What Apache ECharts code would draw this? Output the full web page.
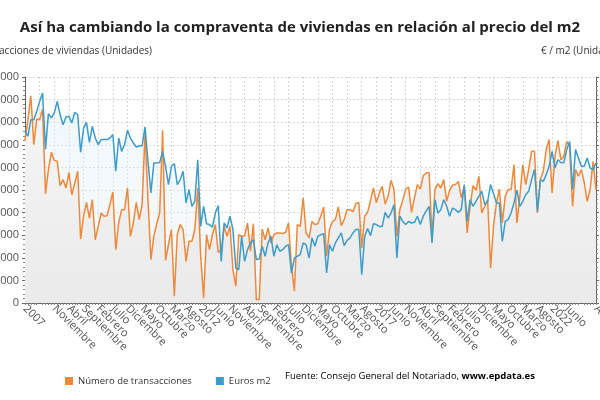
<!DOCTYPE html>
<html>
<head>
<meta charset="utf-8">
<script src="https://cdn.jsdelivr.net/npm/echarts@6/dist/echarts.min.js"></script>
<style>
html,body{margin:0;padding:0;background:#fff;}
#chart{width:600px;height:400px;}
</style>
</head>
<body>
<div id="chart"></div>
<script>
const monthNames = ['Enero','Febrero','Marzo','Abril','Mayo','Junio','Julio','Agosto','Septiembre','Octubre','Noviembre','Diciembre'];
const firstYear = 2007;

// Número de transacciones (Unidades), monthly from Jan 2007
const transacciones = [
72000,81100,91700,70100,81400,81100,85800,48400,59000,66700,63100,62700,
51900,54600,50900,57800,47900,53100,58300,28300,38400,44500,37600,45700,
28000,33900,39800,38400,38600,43500,49100,23600,35400,41300,41300,50900,
29500,35400,44500,36900,43500,75200,45700,19200,29500,35100,39800,76400,
18900,25800,32450,2950,30200,34700,32450,18400,27300,27300,32500,50900,
20700,2200,30200,23600,30200,34700,22400,23600,33900,29500,33900,14800,
7400,30200,29500,29800,35400,22900,35100,1500,1500,32700,28000,33200,
26600,30200,31000,31000,30700,31300,35400,16200,5200,34700,33900,46500,
31000,28800,36100,34700,35100,38400,42500,20700,32700,36100,36900,42500,
34200,36900,41300,41300,40400,44000,44500,24300,38400,40100,45400,50900,
44300,48700,51600,43800,47200,54300,50200,29500,41300,45400,50400,51300,
40100,46500,52400,50400,56300,57500,57800,29500,50200,52800,50900,54600,
45000,49900,52100,52400,53800,46500,51600,31000,42800,51900,49900,56100,
39800,42800,45700,15500,33900,44300,50400,35400,47200,50200,50200,61200,
35400,47200,61200,52400,59000,67100,67100,39800,54600,58300,67900,72300,
48700,64900,71800,63400,64900,71500,69300,42800,59000,56100,59000,53100,
45000,50200,62700,50200
];

// Euros m2, monthly from Jan 2007
const eurosM2 = [
1760,1738,1811,1811,1848,1892,1929,1681,1838,1819,1841,1892,
1833,1789,1823,1826,1797,1844,1833,1667,1774,1799,1711,1782,
1730,1701,1723,1723,1723,1730,1745,1583,1730,1671,1701,1764,
1730,1708,1690,1696,1696,1779,1627,1487,1620,1620,1622,1671,
1605,1524,1605,1617,1524,1546,1583,1443,1502,1428,1450,1634,
1339,1428,1351,1347,1336,1398,1431,1184,1354,1332,1384,1327,
1155,1148,1295,1184,1236,1266,1280,1192,1195,1251,1207,1266,
1295,1207,1258,1229,1236,1251,1258,1133,1199,1207,1214,1266,
1258,1199,1288,1251,1295,1302,1307,1133,1258,1229,1266,1288,
1310,1254,1277,1288,1310,1325,1325,1125,1295,1330,1298,1351,
1347,1339,1339,1401,1376,1398,1435,1199,1384,1361,1347,1361,
1354,1357,1384,1347,1384,1406,1428,1266,1457,1398,1413,1457,
1428,1384,1420,1413,1401,1413,1524,1361,1457,1428,1450,1472,
1494,1435,1450,1524,1484,1443,1443,1273,1361,1369,1398,1443,
1499,1428,1450,1479,1494,1546,1590,1406,1546,1538,1568,1605,
1671,1597,1634,1622,1620,1679,1715,1502,1679,1642,1605,1605,
1642,1597,1590,1620
];

const leftTicks = {min: 0, max: 100000, interval: 10000};
const rightTicks = {min: 1000, max: 2000, interval: 100};

const seriesNames = ['Número de transacciones', 'Euros m2'];
const titleText = 'Así ha cambiando la compraventa de viviendas en relación al precio del m2';
const leftAxisTitle = 'Transacciones de viviendas (Unidades)';
const rightAxisTitle = '€ / m2 (Unidades)';
const sourceLabel = 'Fuente: Consejo General del Notariado, ';
const sourceSite = 'www.epdata.es';

const categories = transacciones.map(function (_, i) {
  const m = i % 12;
  return m === 0 ? String(firstYear + Math.floor(i / 12)) : monthNames[m];
});

const ORANGE = '#f0883a';
const BLUE = '#3d9cc9';
const FONT = 'Open Sans';

const chart = echarts.init(document.getElementById('chart'), null, {renderer: 'canvas'});
chart.setOption({
  animation: false,
  backgroundColor: '#ffffff',
  textStyle: {fontFamily: FONT},
  title: {
    text: titleText,
    left: 'center',
    top: 15,
    textStyle: {fontFamily: FONT, fontSize: 15, fontWeight: 'bold', color: '#222'}
  },
  graphic: [
    {type: 'text', x: 152, y: 46, style: {text: leftAxisTitle, textAlign: 'right', fontFamily: FONT, fontSize: 10, fill: '#333'}},
    {type: 'text', x: 541, y: 46, style: {text: rightAxisTitle, textAlign: 'left', fontFamily: FONT, fontSize: 10, fill: '#333'}},
    {type: 'text', x: 285, y: 371, style: {
      rich: {n: {fontFamily: FONT, fontSize: 9.5, color: '#333'}, b: {fontFamily: FONT, fontSize: 9.5, fontWeight: 'bold', color: '#333'}},
      text: '{n|' + sourceLabel + '}{b|' + sourceSite + '}'
    }}
  ],
  legend: {
    data: seriesNames,
    left: 60,
    top: 371,
    itemWidth: 8,
    itemHeight: 8,
    itemGap: 24,
    icon: 'rect',
    textStyle: {fontFamily: FONT, fontSize: 9.5, color: '#333'}
  },
  grid: {left: 25, right: 4, top: 77, bottom: 97, containLabel: false, outerBoundsMode: 'none'},
  xAxis: {
    type: 'category',
    data: categories,
    boundaryGap: false,
    axisLine: {show: true, lineStyle: {color: '#666', width: 1}},
    axisTick: {show: true, interval: 0, length: 2, lineStyle: {color: '#888'}},
    axisLabel: {interval: 4, rotate: -45, fontFamily: FONT, fontSize: 11, color: '#555', margin: 4,
      showMinLabel: true, showMaxLabel: true, hideOverlap: false},
    splitLine: {show: true, interval: 4, lineStyle: {color: '#d8d8d8', type: [2, 2]}}
  },
  yAxis: [
    {
      type: 'value',
      min: leftTicks.min, max: leftTicks.max, interval: leftTicks.interval,
      axisLine: {show: true, lineStyle: {color: '#666'}},
      axisTick: {show: true, length: 3, lineStyle: {color: '#666'}},
      minorTick: {show: true, splitNumber: 5, length: 2, lineStyle: {color: '#888'}},
      axisLabel: {fontFamily: FONT, fontSize: 11, color: '#555', margin: 6},
      splitLine: {show: true, lineStyle: {color: '#d8d8d8', type: [2, 2]}}
    },
    {
      type: 'value',
      min: rightTicks.min, max: rightTicks.max, interval: rightTicks.interval,
      position: 'right',
      axisLine: {show: true, lineStyle: {color: '#666'}},
      axisTick: {show: true, length: 3, lineStyle: {color: '#666'}},
      minorTick: {show: true, splitNumber: 5, length: 2, lineStyle: {color: '#888'}},
      axisLabel: {show: false},
      splitLine: {show: false}
    }
  ],
  series: [
    {
      name: 'area-blue', type: 'line', yAxisIndex: 1, data: eurosM2,
      symbol: 'none', silent: true, z: 1,
      lineStyle: {width: 0, opacity: 0},
      areaStyle: {origin: 'start', color: new echarts.graphic.LinearGradient(0, 0, 0, 1, [
        {offset: 0, color: 'rgba(215,237,249,0.5)'},
        {offset: 1, color: 'rgba(238,241,243,0.6)'}
      ])}
    },
    {
      name: 'area-orange', type: 'line', yAxisIndex: 0, data: transacciones,
      symbol: 'none', silent: true, z: 1,
      lineStyle: {width: 0, opacity: 0},
      areaStyle: {origin: 'start', opacity: 1, color: new echarts.graphic.LinearGradient(0, 0, 0, 1, [
        {offset: 0, color: '#f6f6f6'},
        {offset: 1, color: '#eaeaea'}
      ])}
    },
    {
      name: seriesNames[0], type: 'line', yAxisIndex: 0, data: transacciones,
      symbol: 'none', z: 3, color: ORANGE,
      lineStyle: {color: ORANGE, width: 1.5}
    },
    {
      name: seriesNames[1], type: 'line', yAxisIndex: 1, data: eurosM2,
      symbol: 'none', z: 4, color: BLUE,
      lineStyle: {color: BLUE, width: 1.5}
    }
  ]
});
</script>
</body>
</html>
